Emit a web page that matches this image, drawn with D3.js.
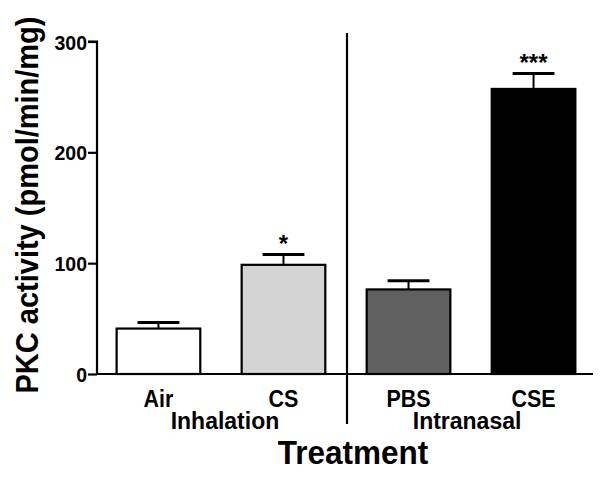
<!DOCTYPE html>
<html>
<head>
<meta charset="utf-8">
<script src="https://cdn.jsdelivr.net/npm/d3@7"></script>
<style>
  html, body { margin: 0; padding: 0; background: #fff; }
  svg { display: block; }
  text { font-family: Arial, "Liberation Sans", sans-serif; font-weight: bold; fill: #000; }
</style>
</head>
<body>
<div id="chart"></div>
<script>
// ---- data ----
const categories = ["Air", "CS", "PBS", "CSE"];
const means = [41, 98.5, 76.3, 257.2];
const sems = [5.5, 9.4, 7.9, 14];
const barColors = ["#ffffff", "#d4d4d4", "#606060", "#000000"];
const significance = ["", "*", "", "***"];
const groups = ["Inhalation", "Intranasal"];
const groupMembers = [["Air", "CS"], ["PBS", "CSE"]];
const yTicks = [0, 100, 200, 300];
const yTitle = "PKC activity (pmol/min/mg)";
const xTitle = "Treatment";

// ---- layout ----
const W = 609, H = 478;
const svg = d3.select("#chart").append("svg").attr("width", W).attr("height", H);

const x = d3.scaleBand().domain(categories).range([97, 595]).paddingInner(0.331).paddingOuter(0.157);
const y = d3.scaleLinear().domain([0, 300]).range([374, 41.5]);

const bw = x.bandwidth();

// helper: slightly taller glyphs (reference font is a bit condensed)
function stretched(sel, sy) {
  return sel.attr("transform", function () {
    const t = d3.select(this);
    const tx = +t.attr("x"), ty = +t.attr("y");
    return `translate(${tx},${ty}) scale(1,${sy})`;
  }).attr("x", 0).attr("y", 0);
}

// y axis
const yAxis = svg.append("g").attr("transform", "translate(97,0)")
  .call(d3.axisLeft(y).tickValues(yTicks).tickSize(9).tickPadding(1));
yAxis.select(".domain").attr("stroke", "#000").attr("stroke-width", 2.2)
  .attr("d", `M-9,${y(300)}H0V${y(0)}`);
yAxis.selectAll(".tick line").attr("stroke", "#000").attr("stroke-width", 2.2);
yAxis.selectAll(".tick text").style("font-size", "19.5px").style("font-family", "Arial, 'Liberation Sans', sans-serif")
  .style("font-weight", "bold").attr("fill", "#000").attr("dy", null).attr("y", 7)
  .attr("transform", "scale(1,1.08)");

// bars
const data = categories.map((c, i) => ({ c, m: means[i], s: sems[i], col: barColors[i], sig: significance[i] }));
svg.append("g").selectAll("rect").data(data).join("rect")
  .attr("x", d => x(d.c)).attr("width", bw)
  .attr("y", d => y(d.m)).attr("height", d => y(0) - y(d.m))
  .attr("fill", d => d.col).attr("stroke", "#000").attr("stroke-width", 2.2);

// error bars
const eb = svg.append("g");
eb.selectAll("line.v").data(data).join("line").attr("class", "v")
  .attr("x1", d => x(d.c) + bw / 2).attr("x2", d => x(d.c) + bw / 2)
  .attr("y1", d => y(d.m)).attr("y2", d => y(d.m + d.s))
  .attr("stroke", "#000").attr("stroke-width", 2);
eb.selectAll("line.c").data(data).join("line").attr("class", "c")
  .attr("x1", d => x(d.c) + bw / 4).attr("x2", d => x(d.c) + bw * 3 / 4)
  .attr("y1", d => y(d.m + d.s)).attr("y2", d => y(d.m + d.s))
  .attr("stroke", "#000").attr("stroke-width", 3);

// significance stars
svg.append("g").selectAll("text").data(data.filter(d => d.sig)).join("text")
  .attr("x", d => x(d.c) + bw / 2).attr("y", d => y(d.m + d.s) - 2)
  .attr("text-anchor", "middle").style("font-size", "24px").text(d => d.sig);

// x axis baseline
svg.append("line").attr("x1", 97).attr("x2", 593).attr("y1", y(0)).attr("y2", y(0))
  .attr("stroke", "#000").attr("stroke-width", 2.2);

// divider between groups
const divX = (x("CS") + bw + x("PBS")) / 2 + 1;
svg.append("line").attr("x1", divX).attr("x2", divX).attr("y1", 33).attr("y2", 424)
  .attr("stroke", "#000").attr("stroke-width", 2.2);

// category labels
stretched(svg.append("g").selectAll("text").data(categories).join("text")
  .attr("x", d => x(d) + bw / 2).attr("y", 406.5)
  .attr("text-anchor", "middle").style("font-size", "21.5px").text(d => d), 1.1);

// group labels
const groupOffsets = [4, -4];
stretched(svg.append("g").selectAll("text").data(groups).join("text")
  .attr("x", (g, i) => {
    const mem = groupMembers[i];
    return (x(mem[0]) + x(mem[mem.length - 1]) + bw) / 2 + groupOffsets[i];
  })
  .attr("y", 428.5).attr("text-anchor", "middle").style("font-size", "23px").text(d => d), 1.08);

// x title
stretched(svg.append("text").attr("x", 353).attr("y", 463.5).attr("text-anchor", "middle")
  .style("font-size", "31.5px").text(xTitle), 1.08);

// y title
svg.append("text").attr("transform", "translate(37.5,205) rotate(-90) scale(1,1.06)")
  .attr("text-anchor", "middle").style("font-size", "29px").text(yTitle);
</script>
</body>
</html>
